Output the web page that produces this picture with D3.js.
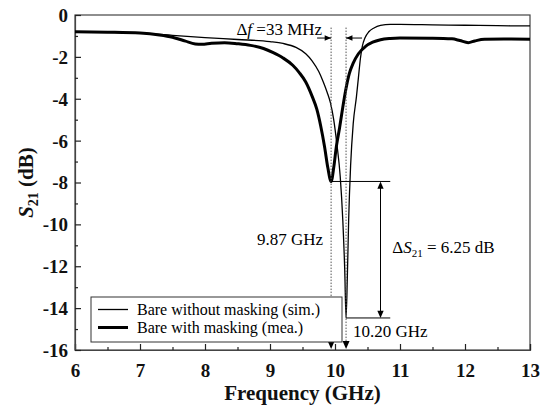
<!DOCTYPE html>
<html><head><meta charset="utf-8">
<script src="https://cdn.jsdelivr.net/npm/d3@7"></script>
<style>
html,body{margin:0;padding:0;background:#fff;}
svg{display:block;font-family:"Liberation Serif","Times New Roman",serif;}
svg text{font-family:"Liberation Serif","Times New Roman",serif;}
</style></head>
<body><svg id="c" width="550" height="405"></svg>
<script>
// ---- data ----
const freqSim = [6.0,6.5,7.0,7.5,8.0,8.5,9.0,9.2,9.4,9.55,9.65,9.75,9.82,9.88,9.93,9.98,10.03,10.08,10.12,10.15,10.17,10.19,10.21,10.24,10.28,10.33,10.36,10.39,10.42,10.46,10.52,10.6,10.7,10.85,11.0,11.5,12.0,12.5,13.0];
const s21Sim  = [-0.80,-0.83,-0.87,-0.97,-1.08,-1.17,-1.27,-1.36,-1.55,-1.85,-2.2,-2.7,-3.2,-3.7,-4.2,-5.0,-6.2,-7.7,-9.8,-12.2,-14.47,-12.5,-9.8,-7.2,-5.2,-3.9,-3.0,-2.1,-1.5,-1.1,-0.8,-0.62,-0.5,-0.45,-0.45,-0.47,-0.49,-0.51,-0.52];
const freqMea = [6.0,6.5,7.0,7.3,7.5,7.7,7.85,7.95,8.1,8.3,8.5,8.7,8.9,9.05,9.2,9.35,9.45,9.55,9.65,9.72,9.78,9.84,9.89,9.94,9.98,10.02,10.07,10.12,10.17,10.22,10.28,10.36,10.47,10.58,10.7,10.85,11.0,11.5,11.8,11.92,12.05,12.15,12.3,12.6,13.0];
const s21Mea  = [-0.80,-0.82,-0.86,-0.95,-1.06,-1.25,-1.38,-1.4,-1.35,-1.32,-1.37,-1.45,-1.6,-1.8,-2.05,-2.4,-2.75,-3.2,-3.9,-4.5,-5.3,-6.3,-7.3,-7.95,-7.3,-6.3,-5.4,-4.4,-3.5,-2.8,-2.3,-1.85,-1.5,-1.3,-1.18,-1.12,-1.1,-1.11,-1.14,-1.22,-1.32,-1.24,-1.16,-1.15,-1.16];
const xTicks = [6,7,8,9,10,11,12,13];
const xMinor = [6.5,7.5,8.5,9.5,10.5,11.5,12.5];
const yTicks = [0,-2,-4,-6,-8,-10,-12,-14,-16];
const yMinor = [-1,-3,-5,-7,-9,-11,-13,-15];
const seriesNames = ["Bare without masking (sim.)","Bare with masking (mea.)"];
const resFreq = [9.94, 10.17];          // marker positions (mea, sim)
const resMin  = [-7.95, -14.47];        // dip depths (mea, sim)
const resLabels = ["9.87 GHz","10.20 GHz"];
const deltaFText = "33 MHz";
const deltaSText = "6.25 dB";

// ---- layout ----
const FONT = "Liberation Serif";
const svg = d3.select("#c");
const L=75, R=530, T=15, B=350;
const x = d3.scaleLinear().domain([6,13]).range([L,R]);
const y = d3.scaleLinear().domain([-16,0]).range([B,T]);

// frame
svg.append("rect").attr("x",L).attr("y",T).attr("width",R-L).attr("height",B-T)
  .attr("fill","none").attr("stroke","#444").attr("stroke-width",1.2);

// axes (inward ticks)
const fmt = d => String(d);
const xa = svg.append("g").attr("transform",`translate(0,${B})`)
  .call(d3.axisBottom(x).tickValues(xTicks).tickSize(-6).tickPadding(12).tickFormat(fmt));
svg.append("g").attr("transform",`translate(0,${B})`)
  .call(d3.axisBottom(x).tickValues(xMinor).tickSize(-3).tickFormat(""))
  .call(g=>g.select(".domain").remove());
const ya = svg.append("g").attr("transform",`translate(${L},0)`)
  .call(d3.axisLeft(y).tickValues(yTicks).tickSize(-6).tickPadding(7).tickFormat(fmt));
svg.append("g").attr("transform",`translate(${L},0)`)
  .call(d3.axisLeft(y).tickValues(yMinor).tickSize(-3).tickFormat(""))
  .call(g=>g.select(".domain").remove());
svg.selectAll("g").attr("font-family",FONT);
svg.selectAll(".domain").attr("stroke","#444").attr("stroke-width",1.2);
svg.selectAll(".tick line").attr("stroke","#222").attr("stroke-width",1.2);
svg.selectAll(".tick text").attr("font-family",FONT).attr("font-weight","bold")
  .attr("font-size",19).attr("fill","#111");
ya.selectAll(".tick text").attr("dy","0.34em");
xa.selectAll(".tick text").attr("dy","0.8em");

// axis titles
svg.append("text").attr("x",(L+R)/2).attr("y",400).attr("text-anchor","middle")
  .attr("font-weight","bold").attr("font-size",21).attr("fill","#111").text("Frequency (GHz)");
const yt = svg.append("text").attr("transform",`translate(33,${(T+B)/2}) rotate(-90)`)
  .attr("text-anchor","middle").attr("font-weight","bold").attr("font-size",21).attr("fill","#111");
yt.append("tspan").attr("font-style","italic").text("S");
yt.append("tspan").attr("font-size",14).attr("dy",5).text("21");
yt.append("tspan").attr("dy",-5).text(" (dB)");

// curves
const line = d3.line().curve(d3.curveMonotoneX).x(d=>x(d[0])).y(d=>y(d[1]));
const simData = freqSim.map((f,i)=>[f,s21Sim[i]]);
const meaData = freqMea.map((f,i)=>[f,s21Mea[i]]);
svg.append("path").datum(simData).attr("d",line).attr("fill","none").attr("stroke","#000").attr("stroke-width",1.3);
svg.append("path").datum(meaData).attr("d",line).attr("fill","none").attr("stroke","#000").attr("stroke-width",3);

// annotation helpers
function tri(cx,cy,dir,s=5){
  let p;
  if(dir==="down") p=[[cx-s*0.7,cy-s*1.6],[cx+s*0.7,cy-s*1.6],[cx,cy]];
  if(dir==="up") p=[[cx-s*0.7,cy+s*1.6],[cx+s*0.7,cy+s*1.6],[cx,cy]];
  if(dir==="right") p=[[cx-s*1.6,cy-s*0.7],[cx-s*1.6,cy+s*0.7],[cx,cy]];
  if(dir==="left") p=[[cx+s*1.6,cy-s*0.7],[cx+s*1.6,cy+s*0.7],[cx,cy]];
  svg.append("path").attr("d","M"+p.join("L")+"Z").attr("fill","#000");
}
const ann = svg.append("g");
// dotted resonance lines with arrows at bottom
resFreq.forEach(f=>{
  ann.append("line").attr("x1",x(f)).attr("x2",x(f)).attr("y1",y(-0.6)).attr("y2",B-2)
    .attr("stroke","#555").attr("stroke-width",1).attr("stroke-dasharray","1.5,1.5");
  tri(x(f),B-1,"down",5);
});
// delta f arrows
const yArr = y(-1.1);
ann.append("line").attr("x1",x(resFreq[0])-14).attr("x2",x(resFreq[0])).attr("y1",yArr).attr("y2",yArr).attr("stroke","#000");
tri(x(resFreq[0]),yArr,"right",4);
ann.append("line").attr("x1",x(resFreq[1])).attr("x2",x(resFreq[1])+16).attr("y1",yArr).attr("y2",yArr).attr("stroke","#000");
tri(x(resFreq[1]),yArr,"left",4);
const df = svg.append("text").attr("x",x(resFreq[0])-9).attr("y",y(-0.95)).attr("text-anchor","end")
  .attr("font-family",FONT).attr("font-size",17).attr("fill","#000");
df.append("tspan").text("Δ");
df.append("tspan").attr("font-style","italic").text("f");
df.append("tspan").text(" =" + deltaFText);

// delta S21 lines
const xEnd = x(10.85), xDS = x(10.7);
ann.append("line").attr("x1",x(resFreq[0])).attr("x2",xEnd).attr("y1",y(resMin[0])).attr("y2",y(resMin[0])).attr("stroke","#000");
ann.append("line").attr("x1",x(resFreq[1])).attr("x2",xEnd).attr("y1",y(resMin[1])).attr("y2",y(resMin[1])).attr("stroke","#000");
ann.append("line").attr("x1",xDS).attr("x2",xDS).attr("y1",y(resMin[0])+6).attr("y2",y(resMin[1])-6).attr("stroke","#000");
tri(xDS,y(resMin[0]),"up",4.5);
tri(xDS,y(resMin[1]),"down",4.5);
const ds = svg.append("text").attr("x",x(10.88)).attr("y",y(-11.35)).attr("font-family",FONT).attr("font-size",17).attr("fill","#000");
ds.append("tspan").text("Δ");
ds.append("tspan").attr("font-style","italic").text("S");
ds.append("tspan").attr("font-size",11).attr("dy",4).text("21");
ds.append("tspan").attr("dy",-4).text(" = " + deltaSText);

svg.append("text").attr("x",x(resFreq[0])-8).attr("y",y(-11.0)).attr("text-anchor","end")
  .attr("font-family",FONT).attr("font-size",17).attr("fill","#000").text(resLabels[0]);
svg.append("text").attr("x",x(resFreq[1])+7).attr("y",y(-15.4)).attr("font-family",FONT)
  .attr("font-size",17).attr("fill","#000").text(resLabels[1]);

// legend
const lg = svg.append("g");
lg.append("rect").attr("x",91).attr("y",297).attr("width",251).attr("height",45)
  .attr("fill","#fff").attr("stroke","#333").attr("stroke-width",1);
[1.3,3].forEach((w,i)=>{
  const yy = 309.5 + i*18;
  lg.append("line").attr("x1",98).attr("x2",128).attr("y1",yy).attr("y2",yy).attr("stroke","#000").attr("stroke-width",w);
  lg.append("text").attr("x",137).attr("y",yy+5).attr("font-family",FONT).attr("font-size",16).attr("fill","#000").text(seriesNames[i]);
});
</script></body></html>
